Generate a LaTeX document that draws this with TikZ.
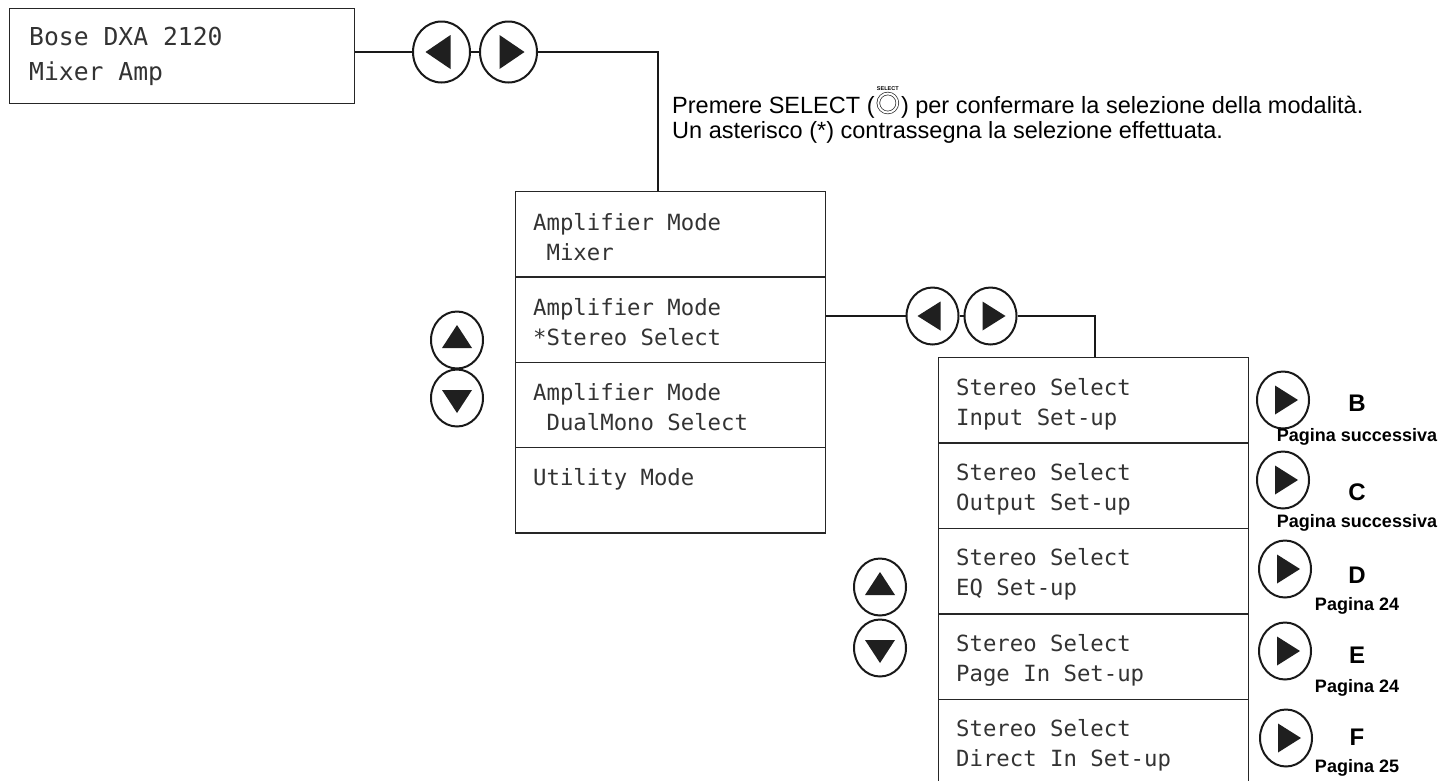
\documentclass[tikz,border=0pt]{standalone}
\usepackage{fontspec}
\setmainfont{Liberation Sans}
\newfontfamily\lcdfont{DejaVu Sans Mono}
\usetikzlibrary{shapes.geometric,calc}
\begin{document}
\begin{tikzpicture}[x=1pt,y=-1pt,
  rowbox/.style={draw=black!85, line width=1.4pt, rectangle, inner sep=0pt,
    minimum width=310pt, minimum height=85.3pt, anchor=north west},
  lcd/.style={font=\lcdfont\fontsize{22.3}{24}\selectfont, text=black!80, anchor=base west, inner sep=0pt},
  lcdbig/.style={font=\lcdfont\fontsize{24.7}{26}\selectfont, text=black!80, anchor=base west, inner sep=0pt},
  conn/.style={line width=2pt, draw=black!90},
  btn/.style={ellipse, draw=black!90, line width=2pt, minimum width=52pt, minimum height=57pt, inner sep=0pt},
  btnbig/.style={ellipse, draw=black!90, line width=2pt, minimum width=57pt, minimum height=61pt, inner sep=0pt},
  tri/.style={fill=black!88},
  instr/.style={font=\fontsize{23.5}{25}\selectfont, anchor=base west, inner sep=0pt},
  letter/.style={font=\bfseries\fontsize{24}{24}\selectfont, anchor=base, inner sep=0pt},
  pag/.style={font=\bfseries\fontsize{18}{18}\selectfont, anchor=base, inner sep=0pt}
]
\path[use as bounding box, clip] (0,0) rectangle (1456,780);
\fill[white] (0,0) rectangle (1456,780);

% top box
\node[draw=black!85, line width=1.4pt, rectangle, inner sep=0pt, minimum width=345pt, minimum height=95pt, anchor=north west] (top) at (9,8) {};
\node[lcdbig] (t1) at (29,45) {Bose DXA 2120};
\node[lcdbig] (t2) at (29,80) {Mixer Amp};

% top buttons
\node[btnbig] (la) at (441.5,52) {};
\node[btnbig] (ra) at (508.5,52) {};
\fill[tri,shift={(la.center)}] (-16,0) -- (9,-17) -- (9,17) -- cycle;
\fill[tri,shift={(ra.center)}] (16,0) -- (-9,-17) -- (-9,17) -- cycle;

% middle box
\node[rowbox] (m1) at (515,191) {};
\node[rowbox] (m2) at (515,276.3) {};
\node[rowbox] (m3) at (515,361.6) {};
\node[rowbox] (m4) at (515,446.9) {};
\node[lcd] (m1a) at ($(m1.north west)+(18,39)$) {Amplifier Mode};
\node[lcd] (m1b) at ($(m1.north west)+(18,69)$) {\phantom{M}Mixer};
\node[lcd] (m2a) at ($(m2.north west)+(18,39)$) {Amplifier Mode};
\node[lcd] (m2b) at ($(m2.north west)+(18,69)$) {*Stereo Select};
\node[lcd] (m3a) at ($(m3.north west)+(18,39)$) {Amplifier Mode};
\node[lcd] (m3b) at ($(m3.north west)+(18,69)$) {\phantom{M}DualMono Select};
\node[lcd] (m4a) at ($(m4.north west)+(18,39)$) {Utility Mode};

% instruction text
\node[instr] (p1) at (672,113) {Premere SELECT (};
\node[circle, draw=black!85, line width=0.7pt, double, double distance=2pt, minimum size=19pt, inner sep=0pt] (sel) at ($(p1.base east)+(13,-10)$) {};
\node[font=\bfseries\fontsize{5.5}{6}\selectfont, anchor=south, inner sep=0pt] (sellbl) at ($(sel.north)+(0,-2)$) {SELECT};
\node[instr] (p2) at ($(p1.base east)+(26,0)$) {) per confermare la selezione della modalità.};
\node[instr] (p3) at (672,138) {Un asterisco (*) contrassegna la selezione effettuata.};

% connector top
\coordinate (j1) at (658,191);
\draw[conn] (top.east |- la.center) -- (la.west);
\draw[conn] (la.east) -- (ra.west);
\draw[conn] (ra.east) -| (j1);

% left up/down
\node[btn] (lu) at (457,340) {};
\node[btn] (ld) at (457,398) {};
\fill[tri,shift={(lu.center)}] (0,-15) -- (-15,8) -- (15,8) -- cycle;
\fill[tri,shift={(ld.center)}] (0,15) -- (-15,-8) -- (15,-8) -- cycle;

% middle buttons
\node[btn] (lb) at (932.5,316) {};
\node[btn] (rb) at (990.5,316) {};
\fill[tri,shift={(lb.center)}] (-15,0) -- (8,-14.5) -- (8,14.5) -- cycle;
\fill[tri,shift={(rb.center)}] (15,0) -- (-8,-14.5) -- (-8,14.5) -- cycle;
\coordinate (j2) at (1095,357);
\draw[conn] (m2.east |- lb.center) -- (lb.west);
\draw[conn] (lb.east) -- (rb.west);
\draw[conn] (rb.east) -| (j2);

% right box
\node[rowbox] (r1) at (938,357) {};
\node[rowbox] (r2) at (938,442.4) {};
\node[rowbox] (r3) at (938,527.8) {};
\node[rowbox] (r4) at (938,613.2) {};
\node[rowbox] (r5) at (938,698.6) {};
\node[lcd] (r1a) at ($(r1.north west)+(18,38)$) {Stereo Select};
\node[lcd] (r1b) at ($(r1.north west)+(18,68)$) {Input Set-up};
\node[lcd] (r2a) at ($(r2.north west)+(18,38)$) {Stereo Select};
\node[lcd] (r2b) at ($(r2.north west)+(18,68)$) {Output Set-up};
\node[lcd] (r3a) at ($(r3.north west)+(18,38)$) {Stereo Select};
\node[lcd] (r3b) at ($(r3.north west)+(18,68)$) {EQ Set-up};
\node[lcd] (r4a) at ($(r4.north west)+(18,38)$) {Stereo Select};
\node[lcd] (r4b) at ($(r4.north west)+(18,68)$) {Page In Set-up};
\node[lcd] (r5a) at ($(r5.north west)+(18,38)$) {Stereo Select};
\node[lcd] (r5b) at ($(r5.north west)+(18,68)$) {Direct In Set-up};

% right up/down
\node[btn] (ru) at (880,587) {};
\node[btn] (rd) at (880,648) {};
\fill[tri,shift={(ru.center)}] (0,-15) -- (-15,8) -- (15,8) -- cycle;
\fill[tri,shift={(rd.center)}] (0,15) -- (-15,-8) -- (15,-8) -- cycle;

% right next buttons
\node[btn] (nb) at (1283,400) {};
\node[btn] (nc) at (1283,480) {};
\node[btn] (nd) at (1285,569) {};
\node[btn] (ne) at (1285,651) {};
\node[btn] (nf) at (1286,738) {};
\foreach \n in {nb,nc,nd,ne,nf}{
  \fill[tri,shift={(\n.center)}] (15,0) -- (-8,-14.5) -- (-8,14.5) -- cycle;
}

% labels
\node[letter] (lB) at (1357,411) {B};
\node[pag] (pB) at (1357,441) {Pagina successiva};
\node[letter] (lC) at (1357,500) {C};
\node[pag] (pC) at (1357,527) {Pagina successiva};
\node[letter] (lD) at (1357,583) {D};
\node[pag] (pD) at (1357,610) {Pagina 24};
\node[letter] (lE) at (1357,663) {E};
\node[pag] (pE) at (1357,692) {Pagina 24};
\node[letter] (lF) at (1357,745) {F};
\node[pag] (pF) at (1357,772) {Pagina 25};
\end{tikzpicture}
\end{document}
